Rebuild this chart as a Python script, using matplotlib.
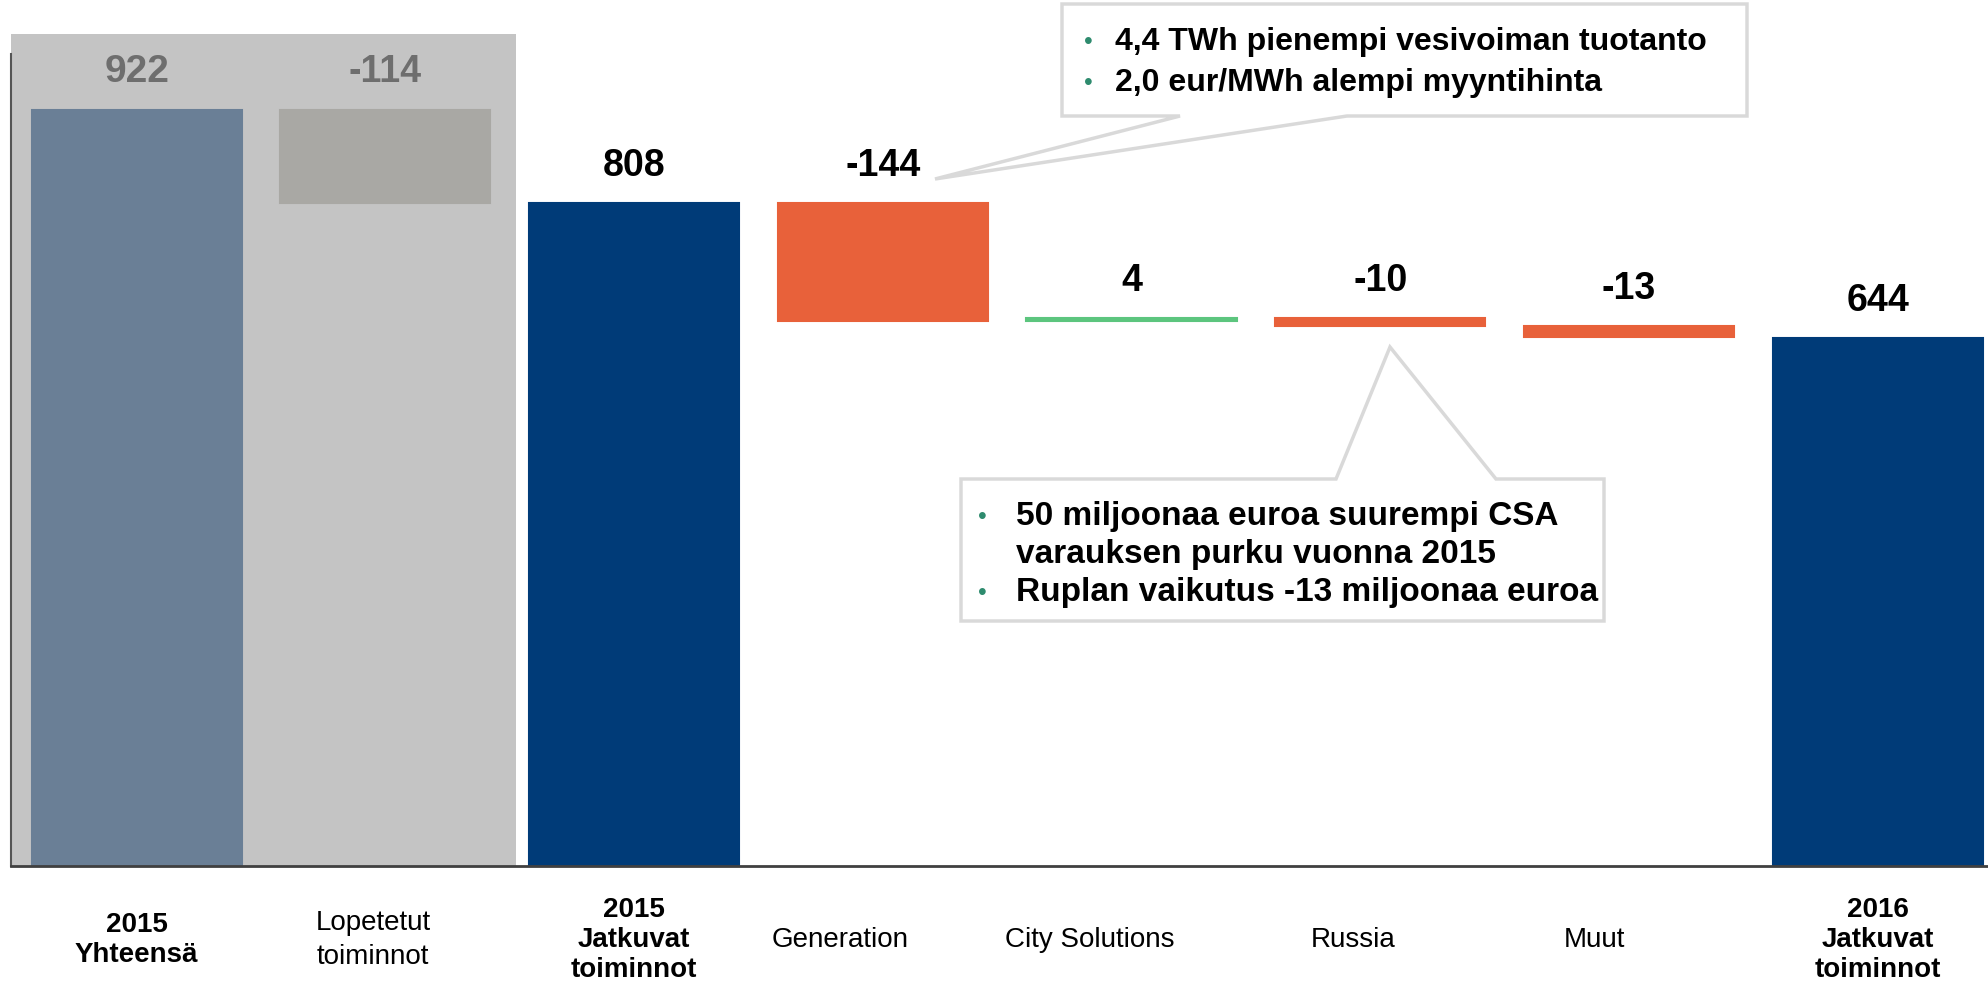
import matplotlib
matplotlib.use('Agg')
import matplotlib.pyplot as plt
from matplotlib.patches import Polygon, Rectangle

plt.rcParams['font.family'] = ['Liberation Sans', 'DejaVu Sans']

# data
categories = ['2015\nYhteensä', 'Lopetetut\ntoiminnot', '2015\nJatkuvat\ntoiminnot',
              'Generation', 'City Solutions', 'Russia', 'Muut',
              '2016\nJatkuvat\ntoiminnot']
values = [922, -114, 808, -144, 4, -10, -13, 644]
is_total = [True, False, True, False, False, False, False, True]
value_labels = ['922', '-114', '808', '-144', '4', '-10', '-13', '644']
bold_cat = [True, False, True, False, False, False, False, True]

callout1 = ['4,4 TWh pienempi vesivoiman tuotanto', '2,0 eur/MWh alempi myyntihinta']
callout2 = [('•', '50 miljoonaa euroa suurempi CSA'), ('', 'varauksen purku vuonna 2015'),
            ('•', 'Ruplan vaikutus -13 miljoonaa euroa')]

c_total = '#003B78'
c_first = '#6A7F96'
c_disc = '#A9A8A4'
c_neg = '#E8613A'
c_pos = '#5CC57E'
c_shade = '#C4C4C4'
c_bullet = '#2E8B6E'

W, H = 1988, 993
fig = plt.figure(figsize=(W / 100, H / 100), dpi=100)
ax = fig.add_axes([11 / W, 127 / H, 1 - 11 / W, 1 - 127 / H])
ax.set_xlim(-0.505, 7.443)
ax.set_ylim(0, 1056)


def px(x, y):
    # pixel position (from top-left) -> figure fraction
    return (x / W, 1 - y / H)


# waterfall geometry
bottoms, heights, colors = [], [], []
running = 0
for i, v in enumerate(values):
    if is_total[i]:
        bottoms.append(0)
        heights.append(v)
        running = v
        colors.append(c_first if i == 0 else c_total)
    else:
        new = running + v
        bottoms.append(min(running, new))
        heights.append(abs(v))
        running = new
        if i == 1:
            colors.append(c_disc)
        else:
            colors.append(c_pos if v > 0 else c_neg)

# shaded area behind discontinued ops
ax.add_patch(Rectangle((-0.505, 0), 2.03, 1015, facecolor=c_shade, edgecolor='none', zorder=0))

x = list(range(len(values)))
ax.bar(x, heights, bottom=bottoms, width=0.845, color=colors, edgecolor=colors,
       linewidth=1.5, zorder=2)

for i in x:
    top = bottoms[i] + heights[i]
    if i < 2:
        ty = 968
        col = '#6E6E6E'
    else:
        ty = top + 45
        col = 'black'
    ax.text(i, ty, value_labels[i], ha='center', va='center',
            fontsize=28 if i == 0 else 27,
            fontweight='bold', color=col, zorder=4)

label_dx = [0, -0.05, 0, -0.17, -0.17, -0.11, -0.14, 0]
for i, lab in enumerate(categories):
    ax.text(i + label_dx[i], -90, lab, ha='center', va='center', fontsize=20,
            fontweight='bold' if bold_cat[i] else 'normal',
            linespacing=1.2 if bold_cat[i] else 1.4, clip_on=False)

for s in ['top', 'right']:
    ax.spines[s].set_visible(False)
ax.spines['left'].set_bounds(0, 990)
ax.spines['left'].set_color('#555555')
ax.spines['bottom'].set_color('#404040')
ax.spines['left'].set_linewidth(1.5)
ax.spines['bottom'].set_linewidth(2)
ax.spines['bottom'].set_zorder(3)
ax.set_xticks([])
ax.set_yticks([])
ax.patch.set_visible(False)

# callout 1
box1 = [(1062, 4), (1747, 4), (1747, 116), (1347, 116), (935, 179), (1180, 116), (1062, 116)]
fig.patches.append(Polygon([px(*p) for p in box1], closed=True, transform=fig.transFigure,
                           facecolor='white', edgecolor='#D9D9D9', linewidth=2.5, zorder=5))
for k, line in enumerate(callout1):
    yy = 42 + k * 41
    fig.text(*px(1084, yy), '•', color=c_bullet, fontsize=18, va='center', ha='left', zorder=6)
    fig.text(*px(1115, yy), line, color='black', fontsize=23, fontweight='bold',
             va='center', ha='left', zorder=6)

# callout 2
box2 = [(961, 479), (1336, 479), (1390, 347), (1496, 479), (1604, 479), (1604, 621), (961, 621)]
fig.patches.append(Polygon([px(*p) for p in box2], closed=True, transform=fig.transFigure,
                           facecolor='white', edgecolor='#D9D9D9', linewidth=2.5, zorder=5))
for k, (b, line) in enumerate(callout2):
    yy = 517 + k * 38
    if b:
        fig.text(*px(978, yy), b, color=c_bullet, fontsize=18, va='center', ha='left', zorder=6)
    fig.text(*px(1016, yy), line, color='black', fontsize=24, fontweight='bold',
             va='center', ha='left', zorder=6)

fig.savefig('out.png', dpi=100)
